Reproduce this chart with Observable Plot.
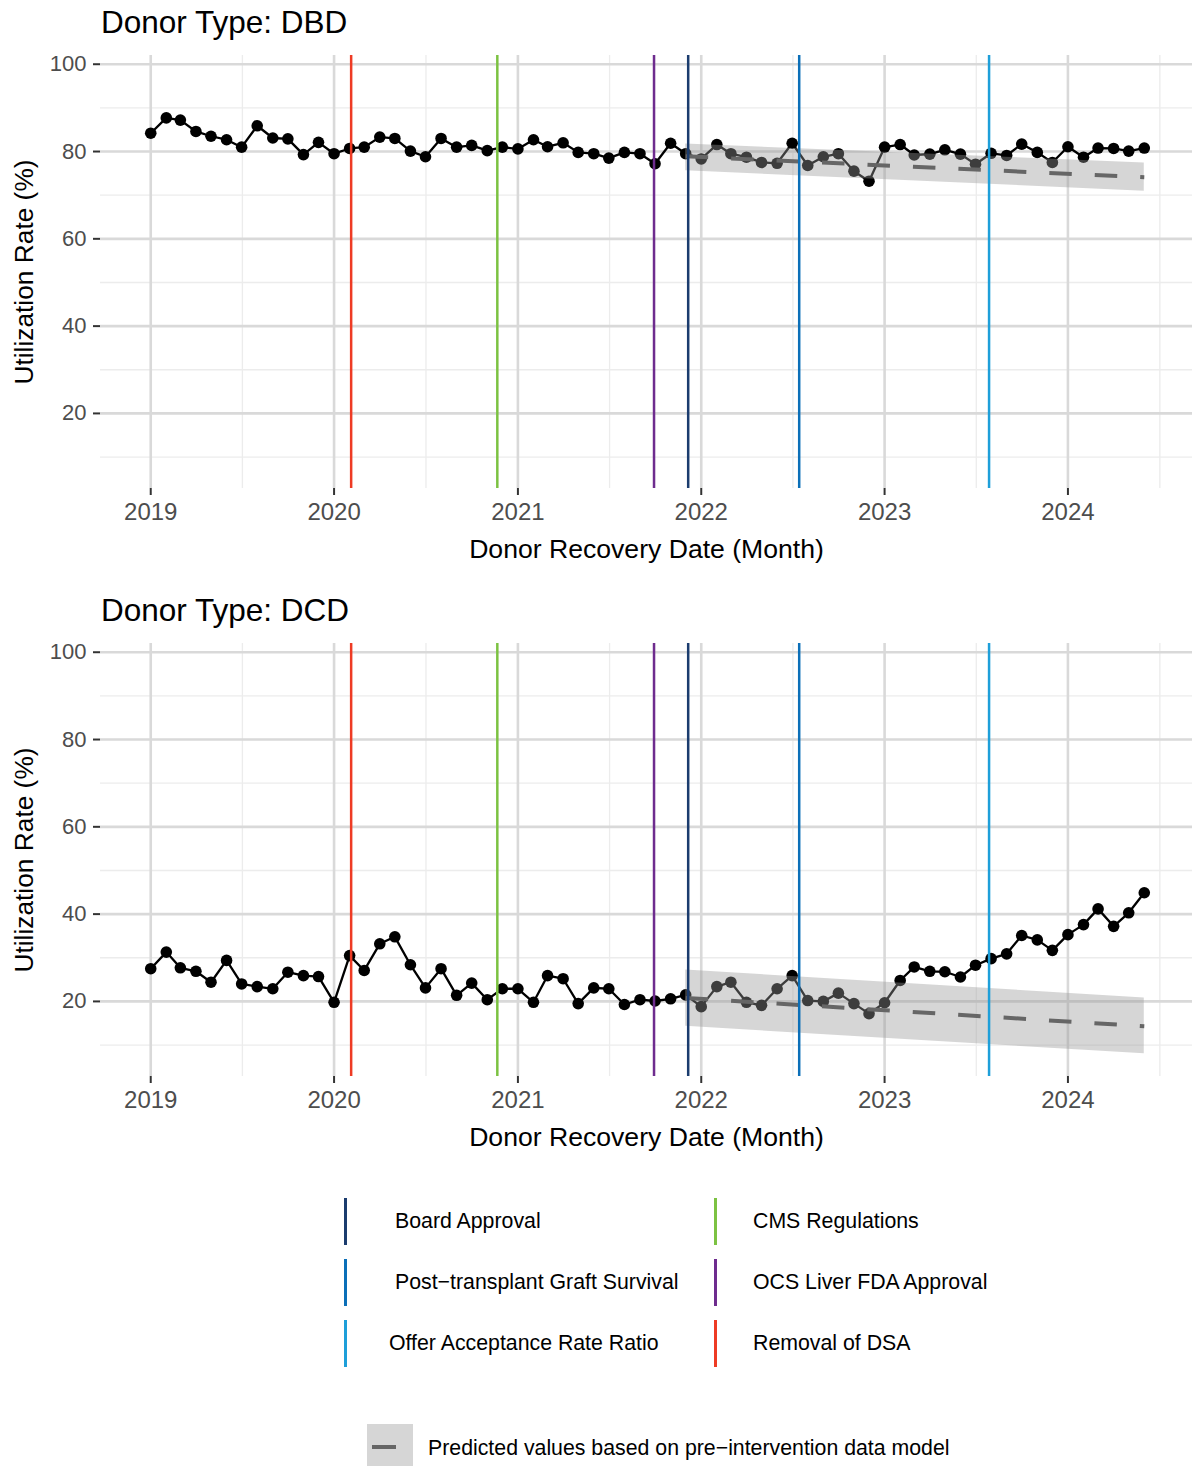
<!DOCTYPE html>
<html>
<head>
<meta charset="utf-8">
<script src="https://cdn.jsdelivr.net/npm/d3@7"></script>
<script src="https://cdn.jsdelivr.net/npm/@observablehq/plot@0.6"></script>
<style>
  body { margin: 0; background: #fff; }
  #root { position: relative; width: 1192px; height: 1466px; overflow: hidden; font-family: "Liberation Sans", Arial, sans-serif; color: #000; }
  .panel { position: absolute; left: 0; }
  .ptitle { position: absolute; left: 101px; font-size: 31.5px; line-height: 1; white-space: nowrap; }
  .lkey { position: absolute; width: 2.5px; height: 47px; }
  .ltext { position: absolute; font-size: 21.3px; line-height: 1; white-space: nowrap; }
</style>
</head>
<body>
<div id="root"></div>
<script>
// ---------------- data ----------------
const firstMonth = "2019-01-01";
const lastMonth = "2024-06-01";
const panelTitles = ["Donor Type: DBD", "Donor Type: DCD"];

const dbdRate = [84.2, 87.7, 87.2, 84.6, 83.5, 82.7, 81.0, 85.9, 83.1, 82.9, 79.3, 82.1,
  79.5, 80.7, 81.0, 83.3, 83.0, 80.1, 78.8, 83.0, 81.0, 81.4, 80.2, 81.0,
  80.6, 82.7, 81.1, 82.0, 79.8, 79.5, 78.5, 79.8, 79.5, 77.2, 81.9, 79.5,
  78.3, 81.6, 79.5, 78.7, 77.5, 77.3, 81.9, 76.8, 78.8, 79.5, 75.5, 73.2,
  81.0, 81.6, 79.2, 79.4, 80.4, 79.4, 77.1, 79.6, 79.1, 81.7, 79.8, 77.5,
  81.1, 78.7, 80.8, 80.7, 80.1, 80.8];

const dcdRate = [27.5, 31.3, 27.7, 26.9, 24.4, 29.4, 24.0, 23.4, 22.9, 26.7, 25.9, 25.7,
  19.8, 30.5, 27.1, 33.2, 34.8, 28.4, 23.1, 27.5, 21.4, 24.2, 20.4, 22.9,
  22.9, 19.8, 25.9, 25.2, 19.5, 23.1, 22.9, 19.3, 20.4, 20.1, 20.6, 21.5,
  18.8, 23.4, 24.4, 19.8, 19.1, 22.9, 25.9, 20.2, 20.0, 21.9, 19.5, 17.2,
  19.7, 24.8, 27.9, 26.9, 26.8, 25.6, 28.3, 29.8, 30.9, 35.1, 34.1, 31.7,
  35.3, 37.6, 41.2, 37.2, 40.3, 44.9];

// predicted values (pre-intervention model), start and end of the projection
const predDates = ["2021-12-01", "2024-06-01"];
const dbdPred = [78.9, 74.1];
const dbdPredLow = [75.6, 70.9];
const dbdPredHigh = [81.7, 77.4];
const dcdPred = [20.8, 14.3];
const dcdPredLow = [14.3, 8.0];
const dcdPredHigh = [27.2, 20.8];

// interventions
const eventNames = ["Board Approval", "Post\u2212transplant Graft Survival", "Offer Acceptance Rate Ratio",
  "CMS Regulations", "OCS Liver FDA Approval", "Removal of DSA"];
const eventDates = ["2021-12-06", "2022-07-15", "2023-07-28", "2020-11-21", "2021-09-29", "2020-02-04"];
const eventColors = ["#1b3c6e", "#0b6fb8", "#1e9fd9", "#7cc242", "#6e2c8e", "#ee3b24"];

const yearTicks = ["2019-01-01", "2020-01-01", "2021-01-01", "2022-01-01", "2023-01-01", "2024-01-01"];
const yTicks = [20, 40, 60, 80, 100];
const yMinor = [10, 30, 50, 70, 90];
const xLabel = "Donor Recovery Date (Month)";
const yLabel = "Utilization Rate (%)";
const predLabel = "Predicted values based on pre\u2212intervention data model";

// ---------------- build ----------------
const parse = s => new Date(s + "T00:00:00Z");
const months = d3.utcMonth.range(parse(firstMonth), d3.utcMonth.offset(parse(lastMonth), 1));
const majorX = yearTicks.map(parse);
const minorX = d3.pairs(majorX.concat([parse("2025-01-01")])).map(([a, b]) => new Date((+a + +b) / 2));
const events = eventNames.map((n, i) => ({name: n, date: parse(eventDates[i]), color: eventColors[i]}));

const root = document.getElementById("root");
const FONT = "'Liberation Sans', Arial, sans-serif";

function panel(rates, pred, lo, hi, top, title) {
  const obs = months.map((d, i) => ({date: d, rate: rates[i]}));
  const p = predDates.map((d, i) => ({date: parse(d), pred: pred[i], lo: lo[i], hi: hi[i]}));
  const svg = Plot.plot({
    width: 1192, height: 575,
    marginTop: 55, marginBottom: 87, marginLeft: 100, marginRight: 0,
    style: {fontFamily: FONT, fontSize: "21.3px", background: "white", overflow: "visible"},
    x: {type: "utc", domain: [parse("2018-09-23"), parse("2024-09-05")]},
    y: {domain: [2.8, 102]},
    marks: [
      Plot.ruleX(minorX, {stroke: "#ececec", strokeWidth: 1.3}),
      Plot.ruleY(yMinor, {stroke: "#ececec", strokeWidth: 1.3}),
      Plot.ruleX(majorX, {stroke: "#d9d9d9", strokeWidth: 2.6}),
      Plot.ruleY(yTicks, {stroke: "#d9d9d9", strokeWidth: 2.6}),
      Plot.lineY(obs, {x: "date", y: "rate", stroke: "black", strokeWidth: 2.3}),
      Plot.dot(obs, {x: "date", y: "rate", r: 5.8, fill: "black", stroke: "none"}),
      Plot.areaY(p, {x: "date", y1: "lo", y2: "hi", fill: "#999999", fillOpacity: 0.4}),
      Plot.lineY(p, {x: "date", y: "pred", stroke: "#666666", strokeWidth: 4, strokeDasharray: "22.5,23", strokeLinecap: "butt"}),
      Plot.ruleX(events, {x: "date", stroke: "color", strokeWidth: 2.5}),
      Plot.axisX({ticks: majorX, tickFormat: d3.utcFormat("%Y"), tickSize: 7, tickPadding: 7.4, stroke: "#333333", strokeWidth: 2, fill: "#4d4d4d", fontSize: 24, label: null}),
      Plot.axisY({ticks: yTicks, tickSize: 7, tickPadding: 7, stroke: "#333333", strokeWidth: 2, fill: "#4d4d4d", fontSize: 22, label: null}),
      Plot.text([xLabel], {frameAnchor: "bottom", text: d => d, dy: 69, fontSize: 26.6, fill: "black"}),
      Plot.text([yLabel], {frameAnchor: "left", textAnchor: "middle", text: d => d, rotate: -90, dx: -76, fontSize: 26.3, fill: "black"})
    ]
  });
  svg.classList.add("panel");
  svg.style.top = top + "px";
  root.appendChild(svg);
  const t = document.createElement("div");
  t.className = "ptitle";
  t.style.top = (top + 6.6) + "px";
  t.textContent = title;
  root.appendChild(t);
}

panel(dbdRate, dbdPred, dbdPredLow, dbdPredHigh, 0, panelTitles[0]);
panel(dcdRate, dcdPred, dcdPredLow, dcdPredHigh, 588, panelTitles[1]);

// ---------------- legends ----------------
const legendOrder = [0, 3, 1, 4, 2, 5]; // row-wise: col1, col2
const rowCenters = [1221, 1282, 1343];
const keyX = [344, 714];
const textX = [[395, 753], [395, 753], [389, 753]];
legendOrder.forEach((ei, k) => {
  const row = Math.floor(k / 2), col = k % 2;
  const key = document.createElement("div");
  key.className = "lkey";
  key.style.left = keyX[col] + "px";
  key.style.top = (rowCenters[row] - 23.5) + "px";
  key.style.background = events[ei].color;
  root.appendChild(key);
  const tx = document.createElement("div");
  tx.className = "ltext";
  tx.style.left = textX[row][col] + "px";
  tx.style.top = (rowCenters[row] - 10.4) + "px";
  tx.textContent = events[ei].name;
  root.appendChild(tx);
});

const box = document.createElement("div");
box.style.cssText = "position:absolute;left:367px;top:1424px;width:46px;height:46px;background:#d6d6d6;";
root.appendChild(box);
const dash = document.createElement("div");
dash.style.cssText = "position:absolute;left:372px;top:1445px;width:24px;height:4px;background:#666666;";
root.appendChild(dash);
const pt = document.createElement("div");
pt.className = "ltext";
pt.style.left = "428px";
pt.style.top = (1448 - 10.4) + "px";
pt.textContent = predLabel;
root.appendChild(pt);
</script>
</body>
</html>
